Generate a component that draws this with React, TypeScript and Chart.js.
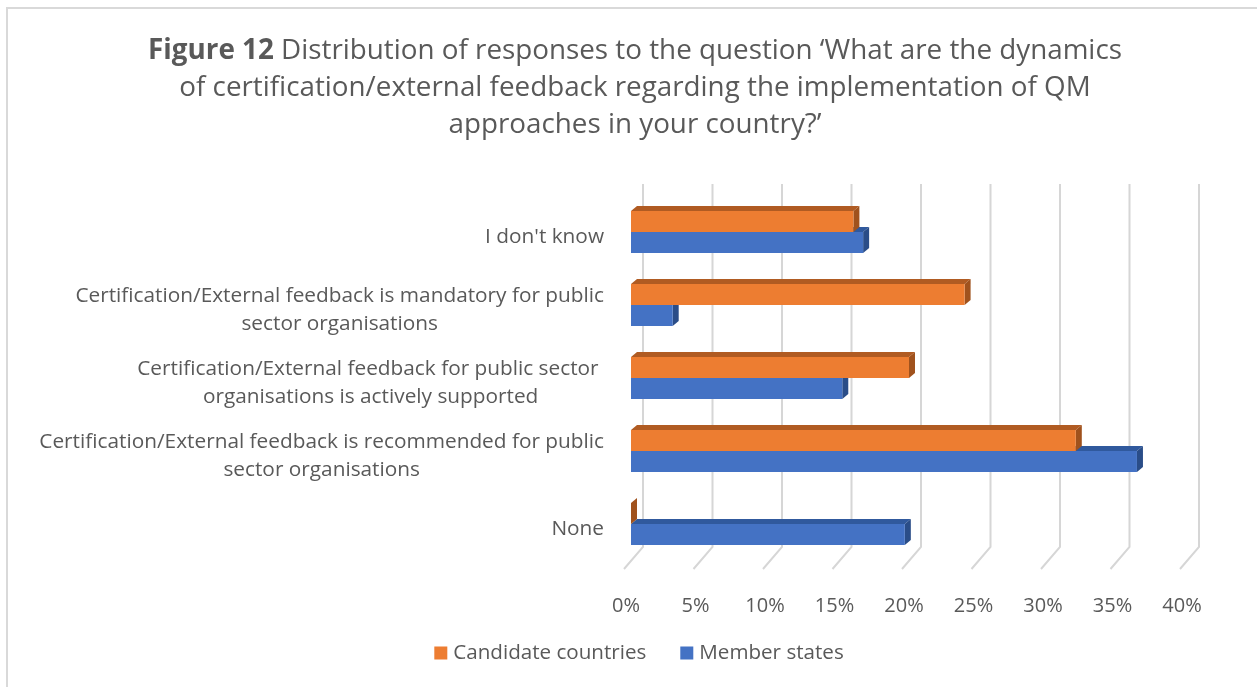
import React, { useEffect, useRef } from 'react';
import { Chart, registerables } from 'chart.js';

Chart.register(...registerables);

// ---------- data ----------
const categories: string[][] = [
  ["I don't know"],
  ["Certification/External feedback is mandatory for public", "sector organisations"],
  ["Certification/External feedback for public sector ", "organisations is actively supported"],
  ["Certification/External feedback is recommended for public", "sector organisations"],
  ["None"],
];
const seriesNames = ["Candidate countries", "Member states"];
const candidateValues = [16, 24, 20, 32, 0];
const memberValues = [16.7, 3.0, 15.2, 36.4, 19.7];
const xTicks = [0, 5, 10, 15, 20, 25, 30, 35, 40];
const titleBold = "Figure 12";
const titleLines = [
  " Distribution of responses to the question \u2018What are the dynamics",
  "of certification/external feedback regarding the implementation of QM",
  "approaches in your country?\u2019",
];

// ---------- styles ----------
const W = 1257;
const H = 687;
const FONT = "'Open Sans', Lato, sans-serif";
const TEXT = '#595959';
const frontColors = ['#ED7D31', '#4472C4'];
const topColors = ['#B05B22', '#30599D'];
const sideColors = ['#A0521D', '#2A4D88'];
const DX = 6;
const DY = 5;

const threeDPlugin = {
  id: 'threeD',
  beforeDatasetsDraw(chart: any) {
    const ctx: CanvasRenderingContext2D = chart.ctx;
    const ca = chart.chartArea;
    const xs = chart.scales.x;
    ctx.save();
    // 3D gridlines (back wall + floor)
    ctx.strokeStyle = '#D6D6D6';
    ctx.lineWidth = 2;
    for (const t of xTicks) {
      const xf = xs.getPixelForValue(t);
      const xb = xf + 12;
      ctx.beginPath();
      ctx.moveTo(xb, ca.top - 11.5);
      ctx.lineTo(xb, ca.bottom - 13.5);
      ctx.lineTo(xf - 7, ca.bottom + 8.5);
      ctx.stroke();
    }
    // top and side faces of bars
    for (let di = chart.data.datasets.length - 1; di >= 0; di--) {
      const meta = chart.getDatasetMeta(di);
      meta.data.forEach((el: any) => {
        const p = el.getProps(['x', 'y', 'base', 'height'], true);
        const top = p.y - p.height / 2;
        const bottom = p.y + p.height / 2;
        const left = Math.min(p.x, p.base);
        const right = Math.max(p.x, p.base);
        ctx.fillStyle = topColors[di];
        ctx.beginPath();
        ctx.moveTo(left, top);
        ctx.lineTo(left + DX, top - DY);
        ctx.lineTo(right + DX, top - DY);
        ctx.lineTo(right, top);
        ctx.closePath();
        ctx.fill();
        ctx.fillStyle = sideColors[di];
        ctx.beginPath();
        ctx.moveTo(right, top);
        ctx.lineTo(right + DX, top - DY);
        ctx.lineTo(right + DX, bottom - DY);
        ctx.lineTo(right, bottom);
        ctx.closePath();
        ctx.fill();
      });
    }
    ctx.restore();
  },
  afterDraw(chart: any) {
    const ctx: CanvasRenderingContext2D = chart.ctx;
    const ca = chart.chartArea;
    const xs = chart.scales.x;
    const ys = chart.scales.y;
    ctx.save();

    // border
    ctx.strokeStyle = '#D9D9D9';
    ctx.lineWidth = 2;
    ctx.beginPath();
    ctx.moveTo(7, H);
    ctx.lineTo(7, 8);
    ctx.lineTo(W, 8);
    ctx.stroke();

    ctx.fillStyle = TEXT;
    ctx.textBaseline = 'middle';

    // title
    const tSize = 27.8;
    const cx = 635;
    ctx.font = `bold ${tSize}px ${FONT}`;
    const wb = ctx.measureText(titleBold).width;
    ctx.font = `${tSize}px ${FONT}`;
    const w1 = ctx.measureText(titleLines[0]).width;
    let sx = cx - (wb + w1) / 2;
    ctx.textAlign = 'left';
    ctx.font = `bold ${tSize}px ${FONT}`;
    ctx.fillText(titleBold, sx, 51);
    ctx.font = `${tSize}px ${FONT}`;
    ctx.fillText(titleLines[0], sx + wb, 51);
    ctx.textAlign = 'center';
    ctx.fillText(titleLines[1], cx, 88);
    ctx.fillText(titleLines[2], cx, 125);

    // category labels (block right-aligned, lines centred)
    ctx.font = `20.8px ${FONT}`;
    const rightEdge = 604;
    const lh = 28;
    categories.forEach((lines, i) => {
      const yc = ys.getPixelForValue(i) + 5;
      const maxW = Math.max(...lines.map((l) => ctx.measureText(l).width));
      const lx = rightEdge - maxW / 2;
      lines.forEach((l, j) => {
        const yy = yc + (j - (lines.length - 1) / 2) * lh;
        ctx.textAlign = 'center';
        ctx.fillText(l, lx, yy);
      });
    });

    // x tick labels
    ctx.font = `20px ${FONT}`;
    ctx.textAlign = 'center';
    xTicks.forEach((t) => {
      ctx.fillText(`${t}%`, xs.getPixelForValue(t) - 5, ca.bottom + 45.5);
    });

    // legend
    ctx.font = `20.6px ${FONT}`;
    const box = 13;
    const gapT = 6;
    const gapI = 34;
    const tw = seriesNames.map((s) => ctx.measureText(s).width);
    const total = tw.reduce((a, b) => a + b, 0) + 2 * (box + gapT) + gapI;
    let lxp = 639 - total / 2;
    const ly = 653;
    seriesNames.forEach((s, i) => {
      ctx.fillStyle = frontColors[i];
      ctx.fillRect(lxp, ly - box / 2, box, box);
      ctx.fillStyle = TEXT;
      ctx.textAlign = 'left';
      ctx.fillText(s, lxp + box + gapT, ly);
      lxp += box + gapT + tw[i] + gapI;
    });

    ctx.restore();
  },
};

export default function App() {
  const ref = useRef<HTMLCanvasElement | null>(null);
  useEffect(() => {
    if (!ref.current) return;
    const chart = new Chart(ref.current, {
      type: 'bar',
      data: {
        labels: categories.map((c) => c.join(' ')),
        datasets: [
          {
            label: seriesNames[0],
            data: candidateValues,
            backgroundColor: frontColors[0],
            borderWidth: 0,
            barPercentage: 1,
            categoryPercentage: 0.575,
          },
          {
            label: seriesNames[1],
            data: memberValues,
            backgroundColor: frontColors[1],
            borderWidth: 0,
            barPercentage: 1,
            categoryPercentage: 0.575,
          },
        ],
      },
      options: {
        indexAxis: 'y',
        responsive: false,
        animation: false,
        devicePixelRatio: 1,
        layout: { padding: { left: 631, right: 70, top: 195.5, bottom: 126.5 } },
        scales: {
          x: { display: false, min: 0, max: 40 },
          y: { display: false },
        },
        plugins: {
          legend: { display: false },
          title: { display: false },
          tooltip: { enabled: false },
        },
      },
      plugins: [threeDPlugin],
    } as any);
    return () => chart.destroy();
  }, []);
  return (
    <div style={{ position: 'fixed', left: 0, top: 0, width: W, height: H, background: '#fff' }}>
      <canvas ref={ref} width={W} height={H} style={{ display: 'block' }} />
    </div>
  );
}
